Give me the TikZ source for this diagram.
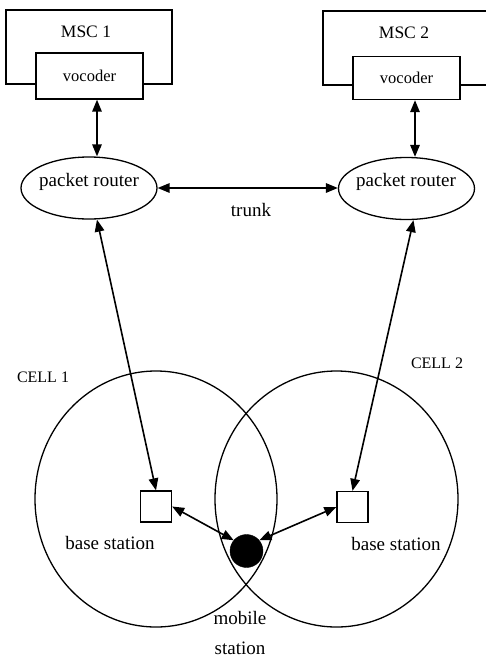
\documentclass[tikz,border=0pt]{standalone}
\usepackage{fontspec}
\setmainfont{Liberation Serif}
\usetikzlibrary{arrows.meta,shapes.geometric}
\tikzset{
  boxline/.style={draw, line width=1.4pt},
  vocbox/.style={draw, line width=1.4pt, fill=white, inner sep=0pt},
  router/.style={draw, ellipse, line width=1.3pt, inner sep=0pt, minimum width=136, minimum height=62},
  bsbox/.style={draw, line width=1.3pt, fill=white, inner sep=0pt, minimum width=31, minimum height=31},
  cell/.style={draw, ellipse, line width=1.3pt, inner sep=0pt},
  conn/.style={line width=1.6pt, {Triangle[length=12pt,width=9.5pt]}-{Triangle[length=12pt,width=9.5pt]}},
  lbl/.style={inner sep=0pt, font=\fontsize{19}{22}\selectfont},
  smalllbl/.style={inner sep=0pt, font=\fontsize{17.5}{20}\selectfont},
  voclbl/.style={font=\fontsize{16.5}{19}\selectfont},
  celllbl/.style={inner sep=0pt, font=\fontsize{16}{19}\selectfont},
}
\begin{document}
\begin{tikzpicture}[x=1pt,y=-1pt]
\useasboundingbox (0,0) rectangle (486,659);

% cells
\node[cell, minimum width=242, minimum height=256] (cell1) at (156,499) {};
\node[cell, minimum width=243, minimum height=256] (cell2) at (336.5,499) {};

% MSC boxes
\node[boxline, minimum width=166, minimum height=74, inner sep=0pt] (msc1) at (89,47) {};
\draw[line width=1.4pt] (487,11) -| (323,85) -- (487,85);
\node[smalllbl] (msc1lbl) at (86,32) {MSC 1};
\node[smalllbl] (msc2lbl) at (404,33) {MSC 2};

\node[vocbox, minimum width=107, minimum height=46, voclbl] (voc1) at (89.5,76) {vocoder};
\node[vocbox, minimum width=107, minimum height=43, voclbl] (voc2) at (406.5,78) {vocoder};

% routers
\node[router] (r1) at (89,188) {};
\node[lbl] (r1lbl) at (89,182) {packet router};
\node[router] (r2) at (406.5,188.5) {};
\node[lbl] (r2lbl) at (406,182) {packet router};

\node[lbl] (trunk) at (251,210) {trunk};

% base stations and mobile
\node[bsbox] (bs1) at (156,506.5) {};
\node[bsbox] (bs2) at (352.5,507) {};
\node[draw, circle, fill=black, minimum size=33, inner sep=0pt] (ms) at (246.5,551) {};

\node[lbl] (bs1lbl) at (110,543) {base station};
\node[lbl] (bs2lbl) at (396,544) {base station};
\node[lbl] (mob) at (240,618) {mobile};
\node[lbl] (sta) at (240,648) {station};

\node[celllbl] (c1lbl) at (43,377) {CELL 1};
\node[celllbl] (c2lbl) at (437,363) {CELL 2};

% connectors
\draw[conn] ([xshift=7.5]voc1.south) -- ([xshift=7.5]voc1.south |- r1.north);
\draw[conn] ([xshift=8.5]voc2.south) -- ([xshift=8.5]voc2.south |- r2.north);
\draw[conn] (r1.east) -- (r1.east -| r2.west);
\draw[conn] ([xshift=8]r1.south) -- (bs1.north);
\draw[conn] ([xshift=7]r2.south) -- (bs2.north);
\draw[conn] (bs1.east) -- (ms.140);
\draw[conn] (bs2.west) -- (ms.40);
\end{tikzpicture}
\end{document}
